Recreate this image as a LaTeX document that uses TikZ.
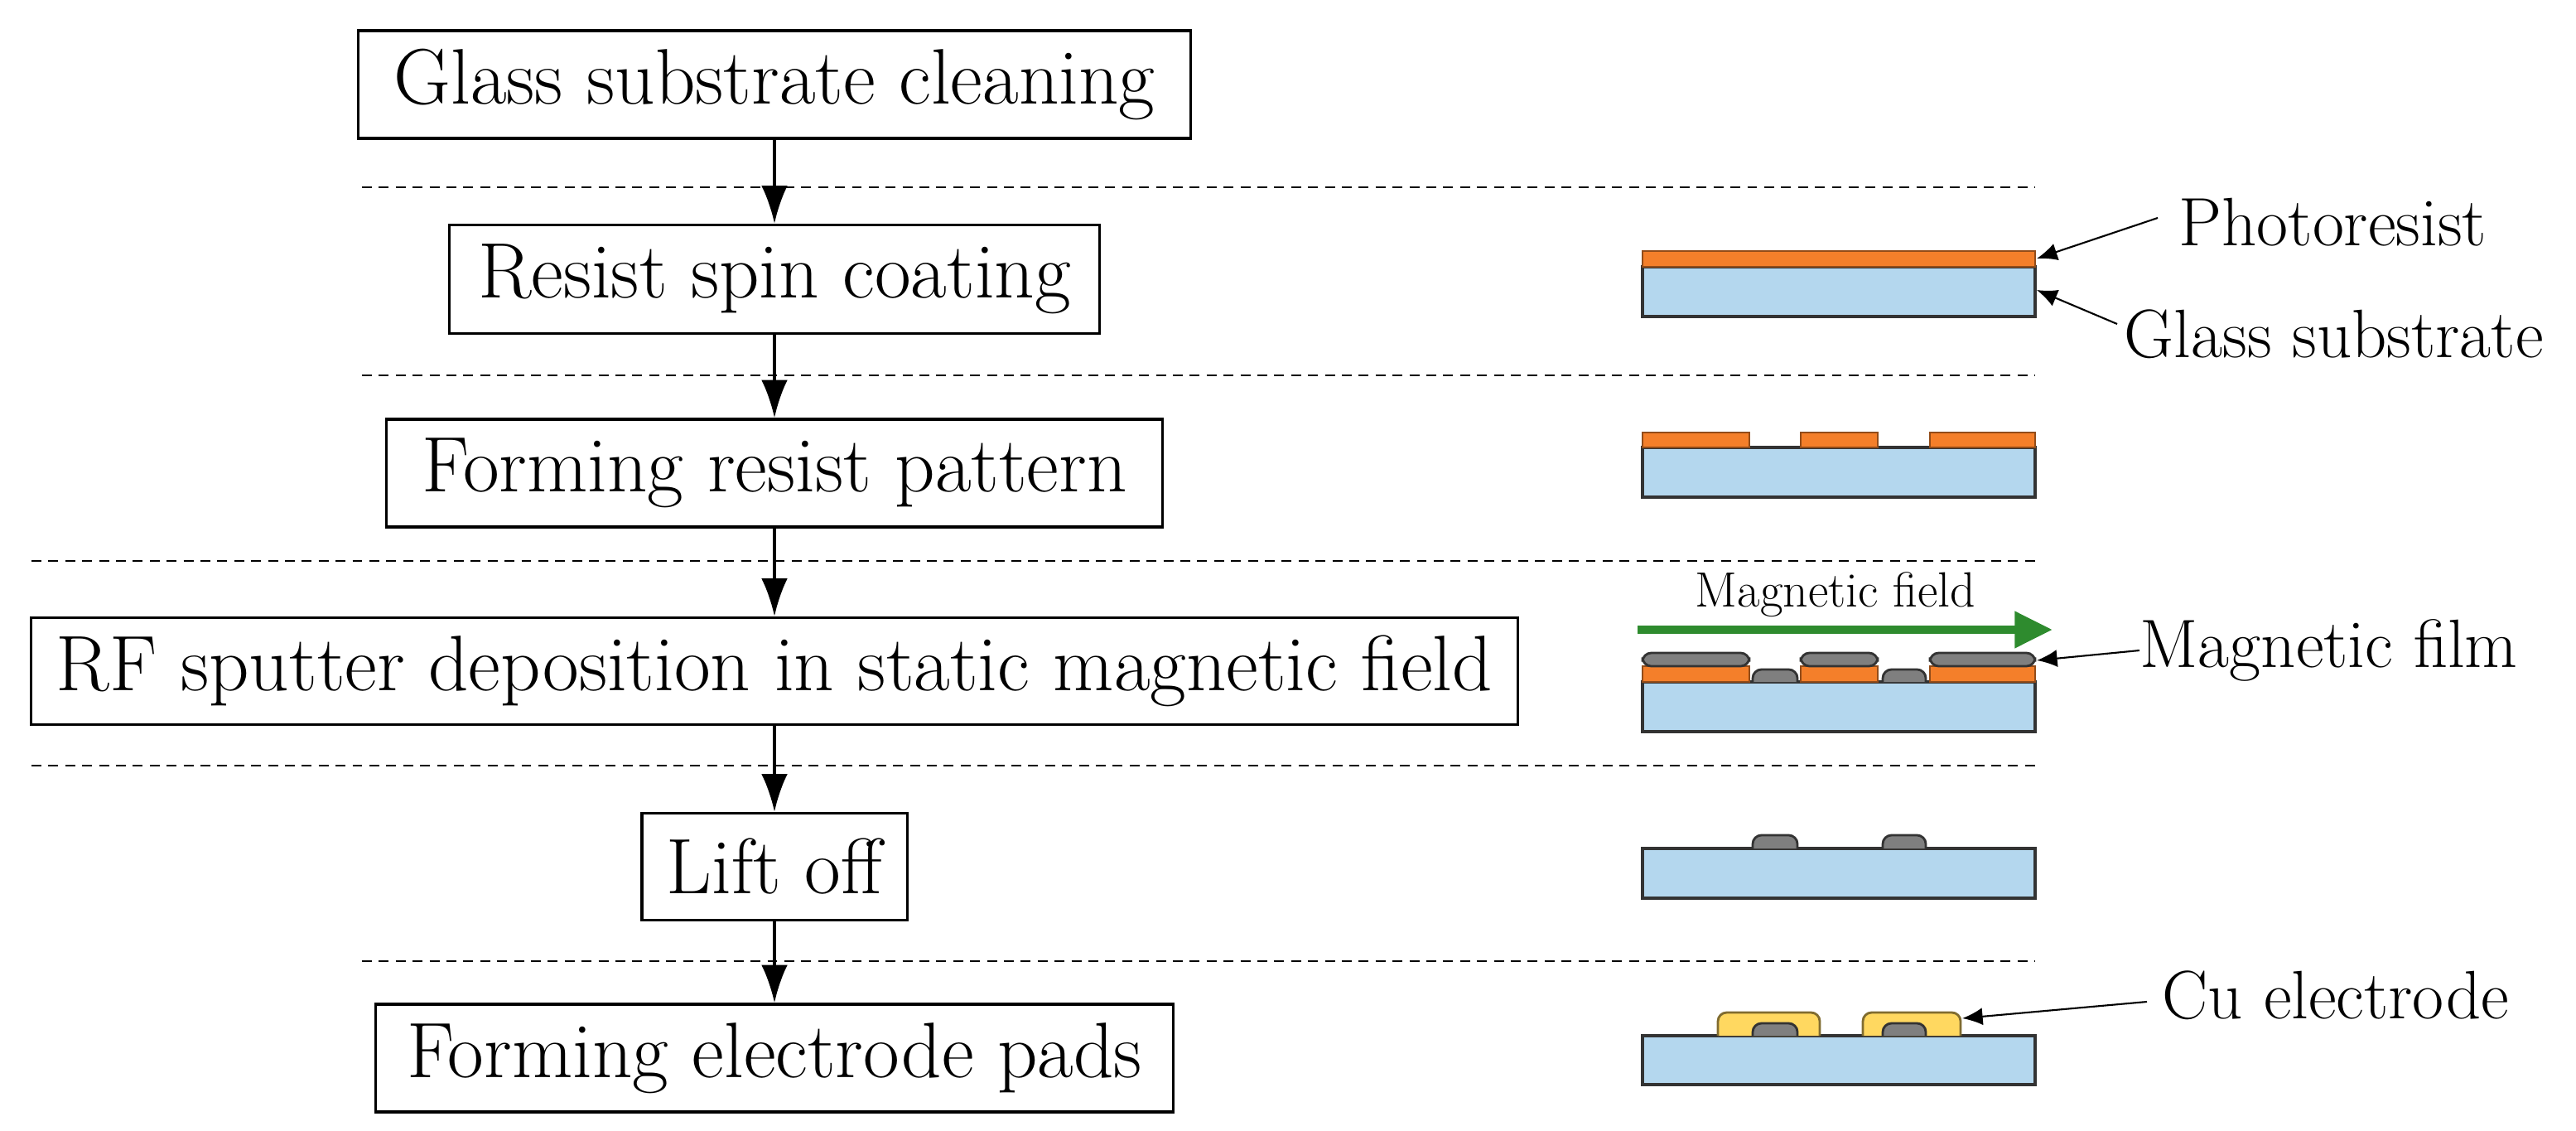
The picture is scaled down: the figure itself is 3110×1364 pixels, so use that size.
\documentclass[tikz,border=0pt]{standalone}
\usetikzlibrary{arrows.meta}
\definecolor{resist}{HTML}{F47F2A}
\definecolor{glass}{HTML}{B4D7EE}
\definecolor{film}{HTML}{7F7F7F}
\definecolor{cu}{HTML}{FFD860}
\definecolor{fieldgreen}{HTML}{2E8B2E}
\begin{document}
\begin{tikzpicture}[x=0.01cm,y=-0.01cm,
  stepbox/.style={draw,line width=0.9pt,inner sep=0pt,font=\fontsize{27}{32}\selectfont},
  flow/.style={-{Latex[length=13pt,width=9pt]},line width=1.1pt},
  sep/.style={line width=0.6pt,dash pattern=on 3.4pt off 2.4pt},
  lab/.style={font=\fontsize{23.5}{28}\selectfont,anchor=west,inner sep=0pt},
  ptr/.style={-{Latex[length=7pt,width=6pt]},line width=0.6pt},
  sub/.style={fill=glass,draw=black!80,line width=1.1pt},
  res/.style={fill=resist,draw=resist!60!black,line width=0.6pt},
  mf/.style={fill=film,draw=black!80,line width=0.8pt,rounded corners=3pt},
  cuel/.style={fill=cu,draw=cu!50!black,line width=0.8pt,rounded corners=3pt}]
\useasboundingbox (0,0) rectangle (3110,1364);
% steps
\node[stepbox,minimum width=10.04cm,minimum height=1.30cm] (b1) at (935,102) {Glass substrate cleaning};
\node[stepbox,minimum width=7.85cm,minimum height=1.31cm] (b2) at (935,337) {Resist spin coating};
\node[stepbox,minimum width=9.37cm,minimum height=1.30cm] (b3) at (935,571) {Forming resist pattern};
\node[stepbox,minimum width=17.94cm,minimum height=1.29cm] (b4) at (935,810) {RF sputter deposition in static magnetic field};
\node[stepbox,minimum width=3.20cm,minimum height=1.29cm] (b5) at (935,1046) {Lift off};
\node[stepbox,minimum width=9.62cm,minimum height=1.30cm] (b6) at (935,1277) {Forming electrode pads};
% separators
\draw[sep] (437,226) -- (2457,226);
\draw[sep] (437,453) -- (2457,453);
\draw[sep] (38,677) -- (2457,677);
\draw[sep] (38,924) -- (2457,924);
\draw[sep] (437,1160) -- (2457,1160);
% flow
\draw[flow] (b1) -- (b2);
\draw[flow] (b2) -- (b3);
\draw[flow] (b3) -- (b4);
\draw[flow] (b4) -- (b5);
\draw[flow] (b5) -- (b6);
% row 2
\draw[sub] (1983,322) rectangle (2457,382);
\draw[res] (1983,303) rectangle (2457,322);
\node[lab] (pr) at (2630,268) {Photoresist};
\node[lab] (gs) at (2564,403) {Glass substrate};
\coordinate (prt) at (2459,312);
\coordinate (gst) at (2459,350);
\draw[ptr] (pr.west) ++(-25,-5) -- (prt);
\draw[ptr] (gs.west) ++(-8,-12) -- (gst);
% row 3
\draw[sub] (1983,540) rectangle (2457,600);
\draw[res] (1983,522) rectangle (2112,540);
\draw[res] (2174,522) rectangle (2267,540);
\draw[res] (2330,522) rectangle (2457,540);
% row 4
\node[font=\fontsize{17}{20}\selectfont,inner sep=0pt] (mfl) at (2216,718) {Magnetic field};
\coordinate (ga) at (1977,760);
\coordinate (gb) at (2478,760);
\draw[fieldgreen,line width=2.8pt,-{Triangle[length=13pt,width=12pt]}] (ga) -- (gb);
\draw[sub] (1983,823) rectangle (2457,883);
\draw[res] (1983,804) rectangle (2112,823);
\draw[res] (2174,804) rectangle (2267,823);
\draw[res] (2330,804) rectangle (2457,823);
\draw[mf] (1983,804) -- (1983,788) -- (2112,788) -- (2112,804) -- cycle;
\draw[mf] (2174,804) -- (2174,788) -- (2267,788) -- (2267,804) -- cycle;
\draw[mf] (2330,804) -- (2330,788) -- (2457,788) -- (2457,804) -- cycle;
\draw[mf] (2116,823) -- (2116,808) -- (2170,808) -- (2170,823);
\draw[mf] (2273,823) -- (2273,808) -- (2325,808) -- (2325,823);
\node[lab] (mfn) at (2583,785) {Magnetic film};
\coordinate (mft) at (2459,797);
\draw[ptr] (mfn.west) -- (mft);
% row 5
\draw[sub] (1983,1024) rectangle (2457,1084);
\draw[mf] (2116,1024) -- (2116,1008) -- (2170,1008) -- (2170,1024);
\draw[mf] (2273,1024) -- (2273,1008) -- (2325,1008) -- (2325,1024);
% row 6
\draw[sub] (1983,1250) rectangle (2457,1309);
\draw[cuel] (2074,1250) -- (2074,1222) -- (2197,1222) -- (2197,1250);
\draw[cuel] (2249,1250) -- (2249,1222) -- (2367,1222) -- (2367,1250);
\draw[mf] (2116,1250) -- (2116,1235) -- (2170,1235) -- (2170,1250);
\draw[mf] (2273,1250) -- (2273,1235) -- (2325,1235) -- (2325,1250);
\node[lab] (cun) at (2610,1201) {Cu electrode};
\coordinate (cut) at (2369,1229);
\draw[ptr] (cun.west) ++(-18,8) -- (cut);
\end{tikzpicture}
\end{document}
